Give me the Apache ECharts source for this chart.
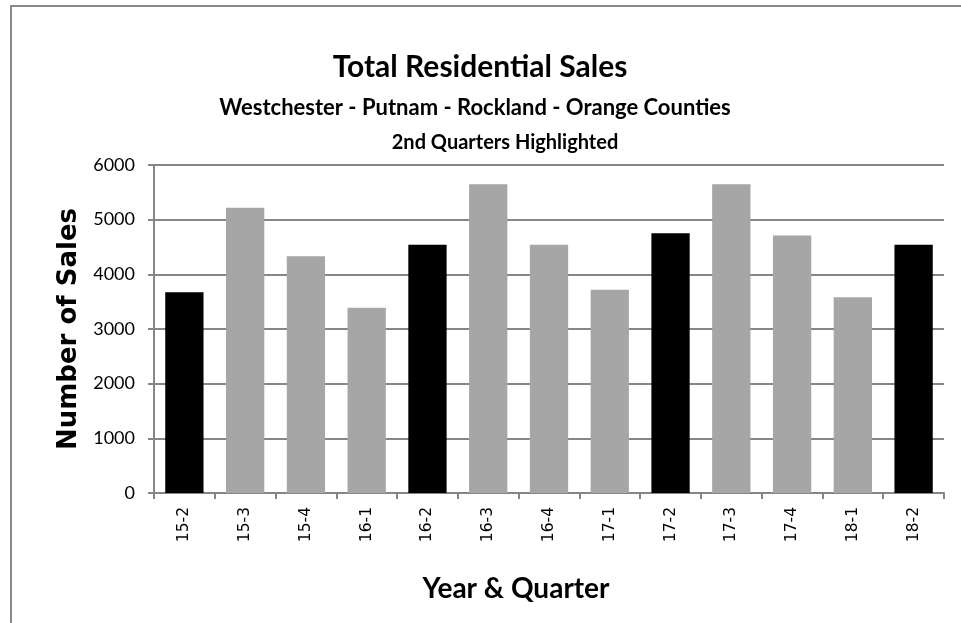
<!DOCTYPE html>
<html>
<head>
<meta charset="utf-8">
<title>Total Residential Sales</title>
<script src="https://cdn.jsdelivr.net/npm/echarts@6/dist/echarts.min.js"></script>
<style>
  html, body { margin: 0; padding: 0; background: #fff; }
  #wrap { position: relative; width: 961px; height: 623px; overflow: hidden; }
  /* outer frame, only left & top edges are visible in the original */
  #frame { position: absolute; left: 10px; top: 5px; width: 1000px; height: 700px;
           border-left: 2px solid #8a8a8a; border-top: 2px solid #8a8a8a; }
  #salesChart { position: absolute; left: 0; top: 0; width: 961px; height: 623px; }
</style>
</head>
<body>
<div id="wrap">
  <div id="frame"></div>
  <div id="salesChart"></div>
</div>
<script>
  // year-quarter categories
  var quarters = ['15-2', '15-3', '15-4', '16-1', '16-2', '16-3', '16-4', '17-1', '17-2', '17-3', '17-4', '18-1', '18-2'];
  // total residential sales per quarter
  var sales = [3670, 5220, 4330, 3390, 4540, 5650, 4540, 3720, 4750, 5650, 4710, 3580, 4540];
  // y axis ticks
  var yTicks = [0, 1000, 2000, 3000, 4000, 5000, 6000];

  var calibri = 'Lato, "Open Sans", sans-serif';

  var salesChart = echarts.init(document.getElementById('salesChart'));
  var option = {
    animation: false,
    title: [
      {
        text: 'Total Residential Sales',
        left: 475, top: 47, textAlign: 'center',
        textStyle: { fontFamily: calibri, fontWeight: 'bold', fontSize: 30, color: '#000' }
      },
      {
        text: 'Westchester - Putnam - Rockland - Orange Counties',
        left: 470, top: 92, textAlign: 'center',
        textStyle: { fontFamily: calibri, fontWeight: 'bold', fontSize: 22, color: '#000' }
      },
      {
        text: '2nd Quarters Highlighted',
        left: 500, top: 128, textAlign: 'center',
        textStyle: { fontFamily: calibri, fontWeight: 'bold', fontSize: 20, color: '#000' }
      }
    ],
    grid: { left: 154, right: 17, top: 165, bottom: 130 },
    xAxis: {
      type: 'category',
      data: quarters,
      name: 'Year & Quarter',
      nameLocation: 'middle',
      nameGap: 82,
      nameTextStyle: { fontFamily: calibri, fontWeight: 'bold', fontSize: 28, color: '#000', padding: [0, 66, 0, 0] },
      axisLine: { lineStyle: { color: '#868686', width: 2 } },
      axisTick: { show: true, length: 6, alignWithLabel: false, lineStyle: { color: '#868686', width: 2 } },
      axisLabel: { rotate: 90, margin: 14, interval: 0, fontFamily: 'DejaVu Sans', fontSize: 15.5, color: '#000' }
    },
    yAxis: {
      type: 'value',
      min: yTicks[0],
      max: yTicks[yTicks.length - 1],
      interval: 1000,
      name: 'Number of Sales',
      nameLocation: 'middle',
      nameGap: 70,
      nameTextStyle: { fontFamily: 'DejaVu Sans', fontWeight: 'bold', fontSize: 26, color: '#000' },
      axisLine: { show: true, lineStyle: { color: '#868686', width: 2 } },
      axisTick: { show: true, length: 6, lineStyle: { color: '#868686', width: 2 } },
      axisLabel: {
        margin: 19, fontFamily: calibri, fontSize: 18, color: '#000',
        formatter: function (v) { return String(v); }
      },
      splitLine: { show: true, lineStyle: { color: '#868686', width: 2 } }
    },
    series: [
      {
        name: 'Sales',
        type: 'bar',
        data: sales,
        barCategoryGap: '37%',
        itemStyle: {
          // 2nd quarters in black, others gray
          color: function (p) {
            return /-2$/.test(quarters[p.dataIndex]) ? '#000000' : '#a6a6a6';
          }
        }
      }
    ]
  };
  salesChart.setOption(option);
</script>
</body>
</html>
